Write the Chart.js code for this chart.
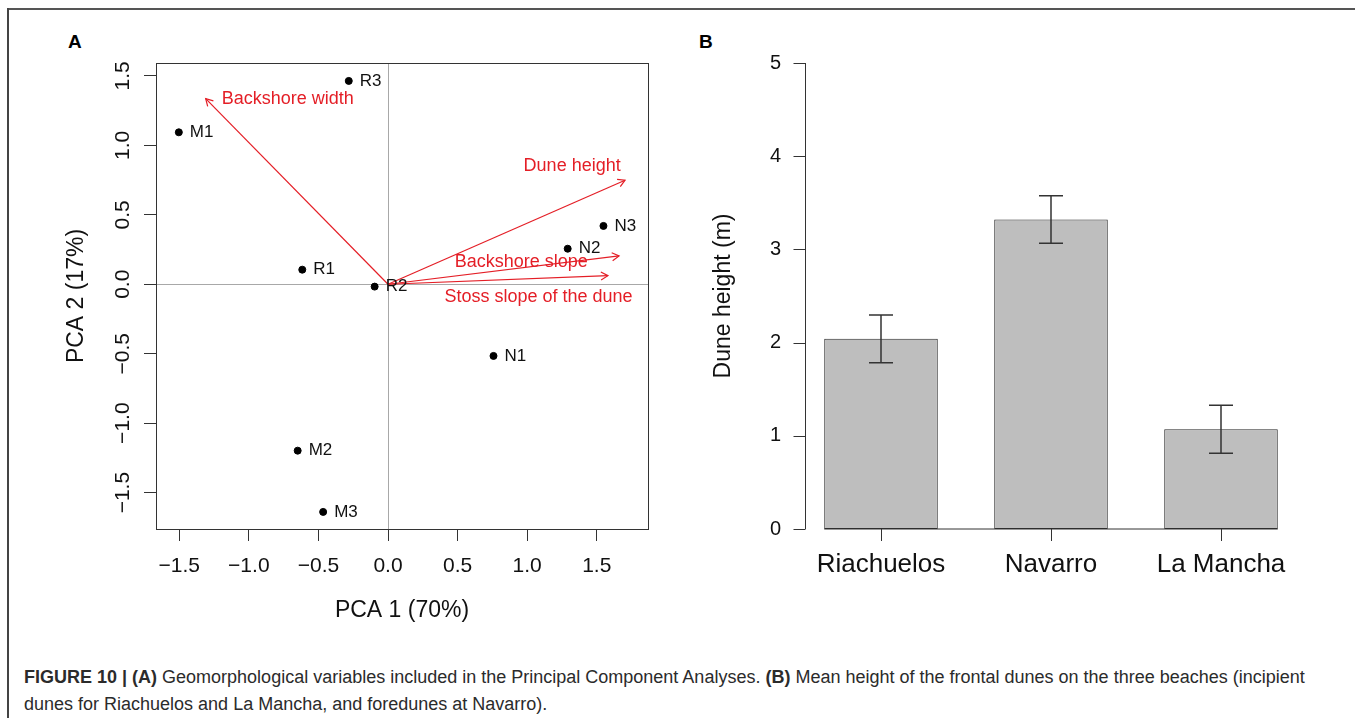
<!DOCTYPE html>
<html>
<head>
<meta charset="utf-8">
<script src="https://cdn.jsdelivr.net/npm/chart.js@4.4.0/dist/chart.umd.min.js"></script>
<style>
    body { margin: 0; background: #fff; font-family: "Liberation Sans", Arial, sans-serif; }
    #page { position: relative; width: 1355px; height: 718px; overflow: hidden; }
    .frameTop { position: absolute; left: 8px; top: 8px; width: 1347px; height: 2px; background: #555; }
    .frameLeft { position: absolute; left: 7px; top: 8px; width: 2px; height: 710px; background: #444; }
    .panel { position: absolute; font-weight: bold; font-size: 19px; line-height: 19px; color: #000; }
    #wrapA { position: absolute; left: 0; top: 0; width: 680px; height: 640px; }
    #wrapB { position: absolute; left: 680px; top: 0; width: 675px; height: 640px; }
    #caption { position: absolute; left: 24px; top: 664px; font-size: 18px; line-height: 27px; color: #2b2b2b; white-space: nowrap; }
</style>
</head>
<body>
<div id="page">
    <div class="frameTop"></div>
    <div class="frameLeft"></div>
    <div class="panel" style="left:68px; top:32px;">A</div>
    <div class="panel" style="left:699px; top:32px;">B</div>
    <div id="wrapA"><canvas id="chartA"></canvas></div>
    <div id="wrapB"><canvas id="chartB"></canvas></div>
    <div id="caption"><b>FIGURE 10 | (A)</b> Geomorphological variables included in the Principal Component Analyses. <b>(B)</b> Mean height of the frontal dunes on the three beaches (incipient<br>dunes for Riachuelos and La Mancha, and foredunes at Navarro).</div>
</div>
<script>
// Panel A - PCA
const siteNames = ['M1', 'M2', 'M3', 'N1', 'N2', 'N3', 'R1', 'R2', 'R3'];
const siteX = [-1.503, -0.649, -0.466, 0.758, 1.291, 1.548, -0.616, -0.096, -0.282];
const siteY = [1.094, -1.198, -1.639, -0.516, 0.256, 0.420, 0.105, -0.017, 1.464];

const varNames = ['Backshore width', 'Dune height', 'Backshore slope', 'Stoss slope of the dune'];
const varX = [-1.310, 1.703, 1.660, 1.580];
const varY = [1.336, 0.749, 0.204, 0.062];
const varLabelX = [-0.720, 1.323, 0.957, 1.081];
const varLabelY = [1.336, 0.852, 0.158, -0.094];

const pcaTicks = [-1.5, -1, -0.5, 0, 0.5, 1, 1.5];

// Panel B - dune height
const beaches = ['Riachuelos', 'Navarro', 'La Mancha'];
const duneHeight = [2.04, 3.32, 1.07];
const duneError = [0.255, 0.255, 0.257];
const heightTicks = [0, 1, 2, 3, 4, 5];

Chart.defaults.font.family = "'Liberation Sans', Arial, sans-serif";
Chart.defaults.color = '#111';

const RED = '#e41e26';

function fmt(v) {
    return (v < 0 ? '\u2212' : '') + Math.abs(v).toFixed(1);
}

const pcaGrid = {
    color: (c) => (c.tick && c.tick.value === 0 ? '#a8a8a8' : 'rgba(0,0,0,0)'),
    tickColor: '#333',
    tickLength: 12,
    drawTicks: true
};

// box, arrow heads, labels, rotated y ticks
const pcaDecor = {
    id: 'pcaDecor',
    afterDraw(chart) {
        const { ctx, chartArea: a } = chart;
        const xs = chart.scales.x;
        const ys = chart.scales.y;
        ctx.save();

        ctx.strokeStyle = '#333';
        ctx.lineWidth = 1;
        ctx.strokeRect(a.left + 0.5, a.top + 0.5, a.right - a.left, a.bottom - a.top);

        // arrow heads
        const ox = xs.getPixelForValue(0);
        const oy = ys.getPixelForValue(0);
        ctx.strokeStyle = RED;
        ctx.lineWidth = 1.2;
        varNames.forEach((n, i) => {
            const tx = xs.getPixelForValue(varX[i]);
            const ty = ys.getPixelForValue(varY[i]);
            const ang = Math.atan2(ty - oy, tx - ox);
            const len = 8;
            ctx.beginPath();
            ctx.moveTo(tx - len * Math.cos(ang - Math.PI / 6), ty - len * Math.sin(ang - Math.PI / 6));
            ctx.lineTo(tx, ty);
            ctx.lineTo(tx - len * Math.cos(ang + Math.PI / 6), ty - len * Math.sin(ang + Math.PI / 6));
            ctx.stroke();
        });

        // variable labels
        ctx.fillStyle = RED;
        ctx.font = "18px 'Liberation Sans', Arial, sans-serif";
        ctx.textAlign = 'center';
        ctx.textBaseline = 'middle';
        varNames.forEach((n, i) => {
            ctx.fillText(n, xs.getPixelForValue(varLabelX[i]), ys.getPixelForValue(varLabelY[i]));
        });

        // site labels
        ctx.fillStyle = '#111';
        ctx.font = "17px 'Liberation Sans', Arial, sans-serif";
        ctx.textAlign = 'left';
        siteNames.forEach((n, i) => {
            ctx.fillText(n, xs.getPixelForValue(siteX[i]) + 11, ys.getPixelForValue(siteY[i]));
        });

        // y tick labels, rotated like R
        ctx.font = "21px 'Liberation Sans', Arial, sans-serif";
        ctx.textAlign = 'center';
        ctx.textBaseline = 'alphabetic';
        ys.ticks.forEach((t) => {
            ctx.save();
            ctx.translate(a.left - 27, ys.getPixelForValue(t.value));
            ctx.rotate(-Math.PI / 2);
            ctx.fillText(fmt(t.value), 0, 0);
            ctx.restore();
        });
        ctx.restore();
    }
};

const arrowSets = varNames.map((n, i) => ({
    label: n,
    data: [{ x: 0, y: 0 }, { x: varX[i], y: varY[i] }],
    showLine: true,
    borderColor: RED,
    borderWidth: 1.2,
    pointRadius: 0
}));

new Chart(document.getElementById('chartA'), {
    type: 'scatter',
    data: {
        datasets: [
            ...arrowSets,
            {
                label: 'sites',
                data: siteNames.map((n, i) => ({ x: siteX[i], y: siteY[i] })),
                backgroundColor: '#000',
                borderColor: '#000',
                pointRadius: 3.5
            }
        ]
    },
    options: {
        animation: false,
        responsive: true,
        maintainAspectRatio: false,
        layout: { padding: { left: 0, right: 32, top: 63, bottom: 0 } },
        plugins: { legend: { display: false }, tooltip: { enabled: false } },
        scales: {
            x: {
                type: 'linear',
                min: -1.667,
                max: 1.868,
                afterBuildTicks: (s) => { s.ticks = pcaTicks.map((v) => ({ value: v })); },
                afterFit: (s) => { s.height = 111; },
                grid: pcaGrid,
                border: { display: false },
                ticks: { font: { size: 21 }, color: '#111', padding: 13, maxRotation: 0, autoSkip: false, callback: (v) => fmt(v) },
                title: { display: true, text: 'PCA 1 (70%)', font: { size: 23 }, color: '#111', padding: { top: 0, bottom: 16 } }
            },
            y: {
                type: 'linear',
                min: -1.762,
                max: 1.593,
                afterBuildTicks: (s) => { s.ticks = pcaTicks.map((v) => ({ value: v })); },
                afterFit: (s) => { s.width = 156; },
                grid: pcaGrid,
                border: { display: false },
                ticks: { display: false },
                title: { display: true, text: 'PCA 2 (17%)', font: { size: 23 }, color: '#111', padding: { top: 63, bottom: 0 } }
            }
        }
    },
    plugins: [pcaDecor]
});

// error bars and R-style axes for the bar plot
const barDecor = {
    id: 'barDecor',
    afterDraw(chart) {
        const { ctx, chartArea: a } = chart;
        const ys = chart.scales.y;
        const bars = chart.getDatasetMeta(0).data;
        ctx.save();
        ctx.strokeStyle = '#333';
        ctx.lineWidth = 1.5;
        bars.forEach((el, i) => {
            const top = ys.getPixelForValue(duneHeight[i] + duneError[i]);
            const bot = ys.getPixelForValue(duneHeight[i] - duneError[i]);
            ctx.beginPath();
            ctx.moveTo(el.x, top);
            ctx.lineTo(el.x, bot);
            ctx.moveTo(el.x - 12, top);
            ctx.lineTo(el.x + 12, top);
            ctx.moveTo(el.x - 12, bot);
            ctx.lineTo(el.x + 12, bot);
            ctx.stroke();
        });

        // y axis line
        ctx.lineWidth = 1;
        const ax = Math.round(a.left + 9) + 0.5;
        ctx.beginPath();
        ctx.moveTo(ax, ys.getPixelForValue(heightTicks[0]));
        ctx.lineTo(ax, ys.getPixelForValue(heightTicks[heightTicks.length - 1]));
        heightTicks.forEach((v) => {
            const y = Math.round(ys.getPixelForValue(v)) + 0.5;
            ctx.moveTo(ax - 12, y);
            ctx.lineTo(ax, y);
        });
        // base line under the bars
        const first = bars[0];
        const last = bars[bars.length - 1];
        const y0 = ys.getPixelForValue(0);
        ctx.moveTo(first.x - first.width / 2, y0);
        ctx.lineTo(last.x + last.width / 2, y0);
        ctx.stroke();
        ctx.restore();
    }
};

new Chart(document.getElementById('chartB'), {
    type: 'bar',
    data: {
        labels: beaches,
        datasets: [{
            data: duneHeight,
            backgroundColor: '#bebebe',
            borderColor: '#2a2a2a',
            borderWidth: 1,
            borderSkipped: false,
            barPercentage: 0.668,
            categoryPercentage: 1
        }]
    },
    options: {
        animation: false,
        responsive: true,
        maintainAspectRatio: false,
        layout: { padding: { left: 0, right: 49, top: 63, bottom: 0 } },
        plugins: { legend: { display: false }, tooltip: { enabled: false } },
        scales: {
            x: {
                offset: true,
                afterFit: (s) => { s.height = 111; },
                grid: { offset: false, drawOnChartArea: false, drawTicks: true, tickLength: 12, color: '#333' },
                border: { display: false },
                ticks: { font: { size: 26 }, color: '#111', padding: 8 }
            },
            y: {
                min: 0,
                max: 5,
                afterBuildTicks: (s) => { s.ticks = heightTicks.map((v) => ({ value: v })); },
                afterFit: (s) => { s.width = 116; },
                grid: { display: false, drawTicks: false },
                border: { display: false },
                ticks: { font: { size: 20 }, color: '#111', padding: 15 },
                title: { display: true, text: 'Dune height (m)', font: { size: 23 }, color: '#111', padding: { top: 30, bottom: 0 } }
            }
        }
    },
    plugins: [barDecor]
});
</script>
</body>
</html>
